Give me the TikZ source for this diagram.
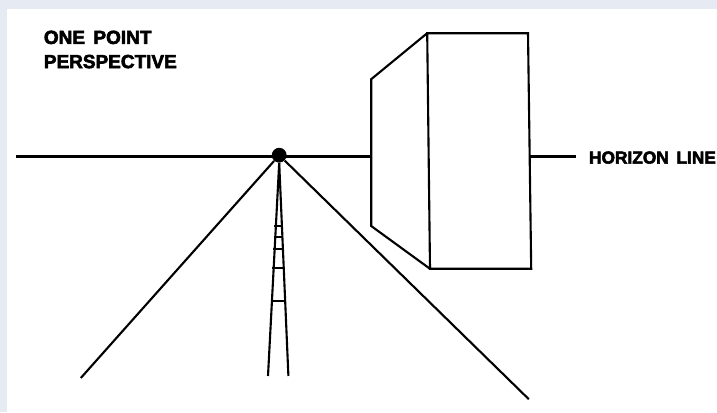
\documentclass[tikz,border=0pt]{standalone}
\usepackage{fontspec}
\newfontfamily\heavyfont[FakeBold=3,WordSpace=1.6]{Liberation Sans Bold}
\definecolor{pagebg}{HTML}{E6EAF3}
\tikzset{
  thickline/.style={black,line width=2.1pt},
  boxline/.style={black,line width=1.5pt,line join=miter},
  floorline/.style={black,line width=1.5pt},
  rung/.style={black,line width=1pt},
  heavylabel/.style={inner sep=0pt,align=left}
}
\begin{document}
\begin{tikzpicture}
\useasboundingbox (0.00,0.00) rectangle (17.925,10.30);
\fill[pagebg] (0.00,0.00) rectangle (17.925,10.30);
\fill[white] (0.18,0.00) rectangle (17.925,10.08);
\node[heavylabel,anchor=north west,font=\heavyfont\fontsize{13.5}{17.2}\selectfont] (title) at (1.09,9.54) {ONE POINT\\PERSPECTIVE};
\node[heavylabel,anchor=west,font=\heavyfont\fontsize{12.3}{15}\selectfont] (horizonlabel) at (14.72,6.36) {HORIZON LINE};
\coordinate (hleft) at (0.40,6.38);
\coordinate (hbox) at (9.28,6.38);
\coordinate (hboxr) at (13.25,6.38);
\coordinate (hright) at (14.40,6.38);
\node[circle,fill=black,inner sep=0pt,minimum size=0.37cm] (vp) at (6.98,6.42) {};
\coordinate (floorl) at (2.02,0.85);
\coordinate (floorr) at (13.22,0.32);
\coordinate (roadl) at (6.70,0.90);
\coordinate (roadr) at (7.21,0.90);
\draw[thickline] (hleft) -- (hbox);
\draw[thickline] (hboxr) -- (hright);
\draw[floorline] (vp) -- (floorl);
\draw[floorline] (vp) -- (floorr);
\draw[floorline] (vp.south) -- (roadl);
\draw[floorline] (vp.south) -- (roadr);
\draw[rung] (6.85,4.65) -- (7.03,4.65);
\draw[rung] (6.84,4.38) -- (7.05,4.38);
\draw[rung] (6.83,4.08) -- (7.06,4.08);
\draw[rung] (6.80,3.60) -- (7.08,3.60);
\draw[rung] (6.78,2.78) -- (7.12,2.78);
\draw[boxline] (10.68,9.47) -- (13.20,9.47) -- (13.28,3.58) -- (10.75,3.58) -- cycle;
\draw[boxline] (10.68,9.47) -- (9.28,8.32) -- (9.28,4.65) -- (10.75,3.58);
\end{tikzpicture}
\end{document}
